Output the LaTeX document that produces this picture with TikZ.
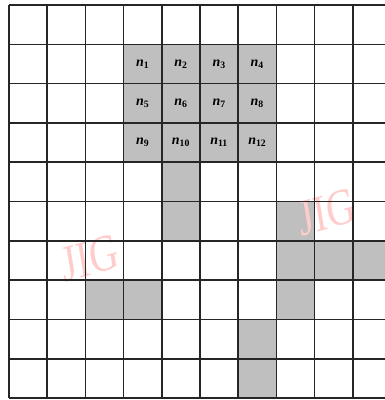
\documentclass[tikz,border=0pt]{standalone}
\usepackage{fontspec}
\setmainfont{Liberation Serif}
\begin{document}
\begin{tikzpicture}[x=1bp,y=-1bp,
  cellfill/.style={fill=black!25},
  gridline/.style={line width=1.6bp,black!85},
  lab/.style={font=\fontsize{14}{14}\selectfont\bfseries\itshape},
  wmark/.style={font=\fontsize{40}{40}\selectfont, text=red!20, yscale=1.3}]
\useasboundingbox (0,0) rectangle (385,400);
\def\cw{38.2}\def\ch{39.3}
% shaded cells
\begin{scope}
\clip (0,0) rectangle (385,400);
\foreach \c/\r in {3/1,4/1,5/1,6/1,3/2,4/2,5/2,6/2,3/3,4/3,5/3,6/3,
                   4/4,4/5,7/5,7/6,8/6,9/6,7/7,2/7,3/7,6/8,6/9}
  \fill[cellfill] ({9+\cw*\c},{5+\ch*\r}) rectangle ++(\cw,\ch);
\end{scope}
% watermarks
\node[wmark, rotate=12] (wm1) at (90,258) {JIG};
\node[wmark, rotate=12] (wm2) at (327,212) {JIG};
% grid
\foreach \i in {0,...,9}
  \draw[gridline] ({9+\cw*\i},5) -- ({9+\cw*\i},398);
\foreach \j in {0,...,10}
  \draw[gridline] (9,{5+\ch*\j}) -- (385,{5+\ch*\j});
% labels
\foreach \k in {1,...,12}{
  \pgfmathtruncatemacro\cc{mod(\k-1,4)+3}
  \pgfmathtruncatemacro\rr{div(\k-1,4)+1}
  \node[lab] (n\k) at ({9+\cw*(\cc+0.5)},{5+\ch*(\rr+0.5)}) {n\textsubscript{\upshape\k}};
}
\end{tikzpicture}
\end{document}
